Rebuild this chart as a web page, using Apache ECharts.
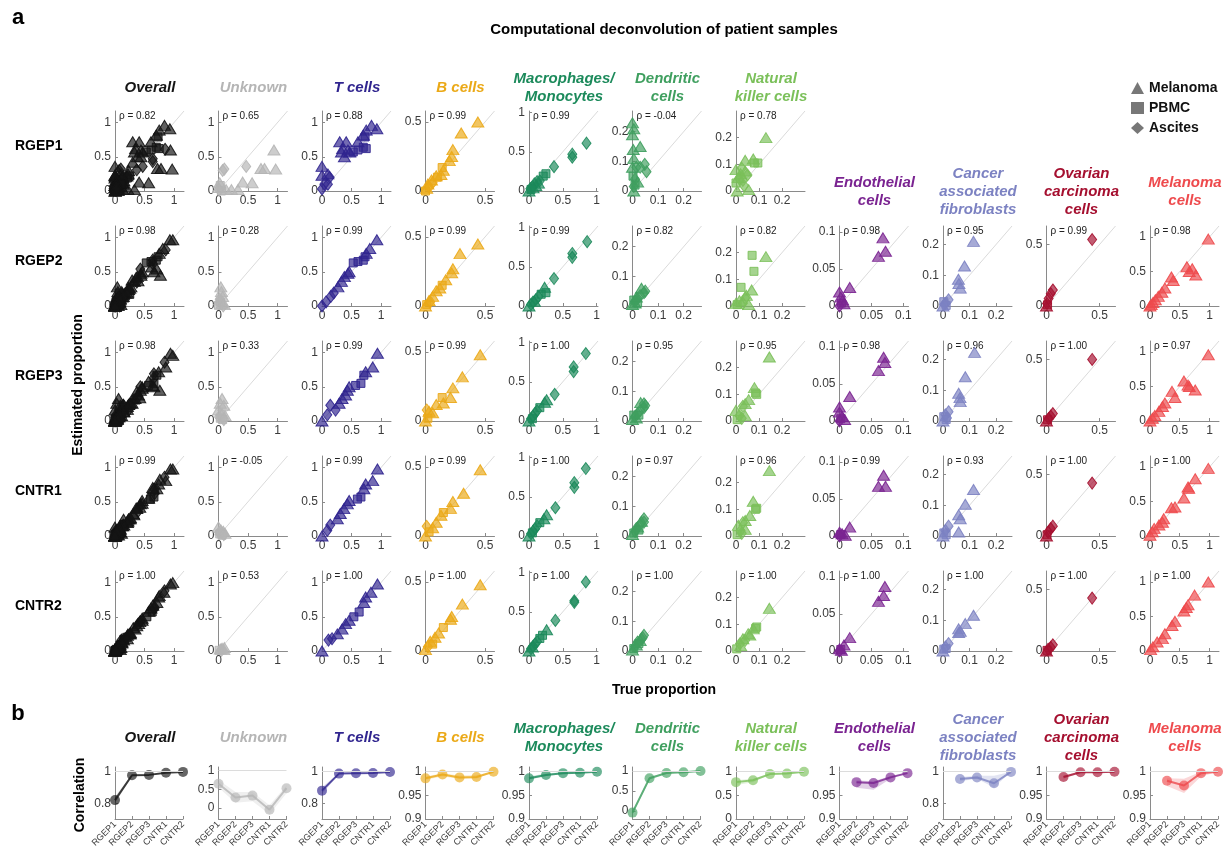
<!DOCTYPE html>
<html>
<head>
  <meta charset="UTF-8">
  <title>Computational deconvolution of patient samples</title>
  <script src="https://cdn.jsdelivr.net/npm/echarts@6.0.0/dist/echarts.min.js"></script>
  <style>html, body { margin: 0; padding: 0; background: #fff; }</style>
</head>
<body>
  <div id="chart" style="width: 1227px; height: 854px"></div>
  <script>
    // samples: 0 = Melanoma (triangle), 1 = PBMC (square), 2 = Ascites (diamond)
    var sampleNames = ['Melanoma', 'PBMC', 'Ascites'];
    var rowNames = ['RGEP1', 'RGEP2', 'RGEP3', 'CNTR1', 'CNTR2'];
    var cellTypes = ['Overall', 'Unknown', 'T cells', 'B cells', 'Macrophages/\nMonocytes', 'Dendritic\ncells',
      'Natural\nkiller cells', 'Endothelial\ncells', 'Cancer\nassociated\nfibroblasts', 'Ovarian\ncarcinoma\ncells', 'Melanoma\ncells'];
    var cellColors = ['#141414', '#b5b5b5', '#30258f', '#eba917', '#1c8a5b', '#3f9f5f', '#7bc05a', '#7a2391', '#7c82c2', '#a50f2f', '#ee4a4d'];

    // scatter axis limits and ticks per cell type
    var scatterMax = [1.17, 1.17, 1.17, 0.58, 1.02, 0.27, 0.3, 0.108, 0.26, 0.65, 1.16];
    var scatterTicks = [[0, 0.5, 1], [0, 0.5, 1], [0, 0.5, 1], [0, 0.5], [0, 0.5, 1], [0, 0.1, 0.2], [0, 0.1, 0.2],
      [0, 0.05, 0.1], [0, 0.1, 0.2], [0, 0.5], [0, 0.5, 1]];

    // correlation (rho) per cell type and dataset, with shaded range
    var rho = [
      [0.82, 0.978, 0.98, 0.993, 0.999],
      [0.65, 0.28, 0.33, -0.05, 0.53],
      [0.88, 0.988, 0.99, 0.992, 0.998],
      [0.986, 0.994, 0.988, 0.989, 1.0],
      [0.986, 0.993, 0.997, 0.998, 1.0],
      [-0.04, 0.82, 0.95, 0.97, 1.0],
      [0.78, 0.82, 0.95, 0.96, 1.0],
      [null, 0.978, 0.976, 0.988, 0.997],
      [null, 0.954, 0.963, 0.927, 0.999],
      [null, 0.989, 0.999, 0.999, 1.0],
      [null, 0.981, 0.971, 0.997, 1.0]
    ];
    var corrLow = [
      [0.80, 0.972, 0.975, 0.99, 0.998],
      [0.55, 0.14, 0.18, -0.17, 0.39],
      [0.86, 0.984, 0.987, 0.99, 0.997],
      [0.983, 0.99, 0.985, 0.985, 0.999],
      [0.983, 0.991, 0.996, 0.997, 0.999],
      [-0.1, 0.78, 0.94, 0.96, 0.998],
      [0.72, 0.78, 0.94, 0.95, 0.998],
      [null, 0.966, 0.962, 0.985, 0.995],
      [null, 0.94, 0.955, 0.9, 0.993],
      [null, 0.985, 0.998, 0.998, 0.999],
      [null, 0.97, 0.955, 0.99, 0.999]
    ];
    var corrHigh = [
      [0.84, 0.984, 0.985, 0.995, 1.0],
      [0.75, 0.43, 0.43, 0.07, 0.6],
      [0.9, 0.992, 0.993, 0.995, 1.0],
      [0.99, 0.997, 0.992, 0.993, 1.0],
      [0.99, 0.996, 0.999, 1.0, 1.0],
      [0.02, 0.85, 0.96, 0.98, 1.0],
      [0.82, 0.85, 0.96, 0.97, 1.0],
      [null, 0.982, 0.98, 0.991, 0.999],
      [null, 0.966, 0.975, 0.975, 1.0],
      [null, 0.992, 1.0, 1.0, 1.0],
      [null, 0.986, 0.985, 1.0, 1.0]
    ];
    var corrRange = [[0.7, 1.03], [-0.3, 1.1], [0.7, 1.03], [0.9, 1.01], [0.9, 1.01], [-0.2, 1.1], [0, 1.1],
      [0.9, 1.01], [0.7, 1.03], [0.9, 1.01], [0.9, 1.01]];
    var corrTicks = [[0.8, 1], [0, 0.5, 1], [0.8, 1], [0.9, 0.95, 1], [0.9, 0.95, 1], [0, 0.5, 1], [0, 0.5, 1],
      [0.9, 0.95, 1], [0.8, 1], [0.9, 0.95, 1], [0.9, 0.95, 1]];

    // points: [true proportion, estimated proportion, sample], one list per dataset
    var ptsUnknown = [
      [[0.07, 0.30, 2], [0.1, 0.32, 2], [0.47, 0.36, 2], [0.02, 0.12, 0], [0, 0.05, 0], [0.13, 0.02, 0], [0.22, 0.02, 0], [0.33, 0.02, 0], [0.41, 0.13, 0], [0.57, 0.12, 0], [0.72, 0.33, 0], [0.78, 0.33, 0], [0.94, 0.6, 0], [0.97, 0.32, 0], [0.03, 0.08, 1], [0.01, 0.02, 2], [0.05, 0, 1]],
      [[0.04, 0.28, 0], [0.05, 0.21, 0], [0.07, 0.14, 0], [0.02, 0.09, 0], [0.06, 0.04, 0], [0.1, 0.02, 0], [0, 0.01, 1], [0.03, 0.06, 1], [0.02, 0.1, 2], [0.08, 0, 2]],
      [[0.06, 0.33, 0], [0.03, 0.26, 0], [0.09, 0.23, 0], [0, 0.16, 0], [0.06, 0.11, 0], [0.11, 0.08, 0], [0.03, 0.04, 1], [0.07, 0.02, 1], [0.01, 0.06, 2], [0.09, 0.02, 2]],
      [[0, 0.13, 0], [0.04, 0.09, 0], [0.08, 0.07, 0], [0.11, 0.04, 0], [0.02, 0.03, 1], [0.06, 0.01, 1], [0.01, 0.05, 2], [0.09, 0.02, 2]],
      [[0.03, 0.03, 0], [0.06, 0.04, 0], [0.09, 0.02, 0], [0.01, 0.01, 1], [0.05, 0.01, 2], [0.1, 0.05, 0]]
    ];
    var ptsTcells = [
      [[0, 0.03, 2], [0.04, 0.1, 2], [0.13, 0.2, 2], [0.1, 0.1, 2], [0, 0.36, 0], [0, 0.23, 0], [0.1, 0.25, 0], [0.33, 0.57, 0], [0.3, 0.72, 0], [0.41, 0.72, 0], [0.35, 0.62, 0], [0.44, 0.6, 0], [0.38, 0.5, 0], [0.47, 0.57, 0], [0.61, 0.72, 0], [0.53, 0.57, 1], [0.61, 0.6, 1], [0.7, 0.64, 1], [0.75, 0.62, 1], [0.73, 0.79, 1], [0.75, 0.89, 0], [0.84, 0.96, 0], [0.93, 0.91, 0], [0.7, 0.82, 0]],
      [[0, 0, 2], [0.07, 0.06, 2], [0.15, 0.14, 2], [0.2, 0.19, 2], [0.27, 0.28, 0], [0.33, 0.36, 0], [0.38, 0.43, 0], [0.44, 0.48, 0], [0.46, 0.5, 0], [0.53, 0.63, 1], [0.61, 0.65, 1], [0.7, 0.67, 1], [0.73, 0.72, 1], [0.75, 0.77, 0], [0.81, 0.84, 0], [0.93, 0.97, 0]],
      [[0, 0, 0], [0.09, 0.09, 2], [0.14, 0.23, 2], [0.23, 0.16, 2], [0.29, 0.26, 0], [0.34, 0.33, 0], [0.4, 0.38, 0], [0.43, 0.45, 0], [0.46, 0.5, 0], [0.57, 0.52, 1], [0.66, 0.55, 1], [0.71, 0.67, 1], [0.74, 0.72, 0], [0.86, 0.79, 0], [0.94, 0.99, 0]],
      [[0, 0, 0], [0.09, 0.08, 2], [0.14, 0.16, 2], [0.26, 0.25, 0], [0.31, 0.33, 0], [0.37, 0.4, 0], [0.43, 0.47, 0], [0.46, 0.52, 0], [0.6, 0.54, 1], [0.66, 0.57, 1], [0.71, 0.69, 0], [0.74, 0.76, 0], [0.86, 0.81, 0], [0.94, 0.98, 0]],
      [[0, 0, 0], [0.11, 0.16, 2], [0.17, 0.18, 2], [0.26, 0.25, 0], [0.34, 0.32, 0], [0.4, 0.4, 0], [0.46, 0.45, 0], [0.54, 0.5, 1], [0.63, 0.57, 1], [0.71, 0.71, 0], [0.74, 0.79, 0], [0.83, 0.86, 0], [0.94, 0.98, 0]]
    ];
    var ptsBcells = [
      [[0.44, 0.5, 0], [0.3, 0.42, 0], [0.23, 0.3, 0], [0.22, 0.25, 0], [0.15, 0.15, 0], [0.13, 0.12, 0], [0.09, 0.11, 0], [0.05, 0.08, 0], [0.02, 0.05, 0], [0.01, 0.02, 0], [0.14, 0.17, 1], [0.1, 0.1, 1], [0, 0, 1], [0.03, 0.03, 2], [0.06, 0.06, 2], [0.2, 0.22, 0]],
      [[0.44, 0.45, 0], [0.29, 0.38, 0], [0.23, 0.27, 0], [0.22, 0.24, 0], [0.17, 0.19, 0], [0.14, 0.15, 1], [0.12, 0.13, 0], [0.09, 0.11, 0], [0.06, 0.07, 0], [0.03, 0.04, 0], [0.01, 0.01, 1], [0.04, 0.03, 2], [0, 0, 0]],
      [[0.46, 0.48, 0], [0.31, 0.32, 0], [0.23, 0.24, 0], [0.21, 0.17, 0], [0.14, 0.17, 1], [0.15, 0.13, 0], [0.09, 0.12, 0], [0.06, 0.06, 0], [0.03, 0.07, 0], [0.01, 0.08, 2], [0, 0, 0], [0.02, 0.02, 1]],
      [[0.46, 0.48, 0], [0.32, 0.31, 0], [0.23, 0.25, 0], [0.21, 0.2, 0], [0.15, 0.17, 1], [0.13, 0.15, 0], [0.09, 0.1, 0], [0.06, 0.06, 0], [0.01, 0.07, 2], [0, 0, 0], [0.03, 0.03, 1]],
      [[0.46, 0.48, 0], [0.31, 0.34, 0], [0.22, 0.25, 0], [0.21, 0.23, 0], [0.15, 0.17, 1], [0.11, 0.13, 0], [0.08, 0.1, 0], [0.04, 0.07, 0], [0, 0.01, 0], [0.02, 0.03, 2], [0.06, 0.05, 1]]
    ];
    var ptsMacro = [
      [[0.85, 0.61, 2], [0.64, 0.43, 2], [0.64, 0.47, 2], [0.37, 0.31, 2], [0.25, 0.22, 1], [0.21, 0.19, 1], [0.16, 0.13, 2], [0.12, 0.12, 2], [0.08, 0.09, 2], [0.05, 0.05, 2], [0.02, 0.03, 2], [0.14, 0.1, 0], [0.1, 0.07, 0], [0.06, 0.04, 0], [0.03, 0.02, 1], [0, 0, 0]],
      [[0.86, 0.82, 2], [0.64, 0.67, 2], [0.64, 0.62, 2], [0.37, 0.35, 2], [0.23, 0.24, 0], [0.25, 0.17, 1], [0.18, 0.15, 1], [0.14, 0.12, 2], [0.1, 0.08, 2], [0.06, 0.05, 2], [0.03, 0.02, 2], [0.08, 0.06, 0], [0, 0, 0]],
      [[0.84, 0.86, 2], [0.66, 0.69, 2], [0.66, 0.63, 2], [0.38, 0.34, 2], [0.26, 0.27, 0], [0.23, 0.24, 0], [0.16, 0.17, 1], [0.12, 0.13, 2], [0.09, 0.1, 2], [0.06, 0.06, 2], [0.03, 0.03, 2], [0.05, 0.03, 1], [0, 0, 0]],
      [[0.84, 0.86, 2], [0.67, 0.68, 2], [0.67, 0.62, 2], [0.39, 0.36, 2], [0.26, 0.27, 0], [0.22, 0.22, 0], [0.16, 0.17, 1], [0.12, 0.13, 2], [0.09, 0.09, 2], [0.06, 0.06, 2], [0.03, 0.03, 2], [0.05, 0.04, 1], [0, 0, 0]],
      [[0.84, 0.88, 2], [0.67, 0.64, 2], [0.67, 0.62, 2], [0.39, 0.39, 2], [0.26, 0.27, 0], [0.2, 0.2, 1], [0.16, 0.16, 1], [0.12, 0.12, 2], [0.09, 0.09, 2], [0.06, 0.06, 2], [0.03, 0.03, 2], [0.05, 0.05, 0], [0, 0, 0]]
    ];
    var ptsDendritic = [
      [[0, 0.23, 0], [0.005, 0.21, 0], [0, 0.19, 0], [0.003, 0.14, 0], [0.005, 0.11, 0], [0.03, 0.15, 0], [0, 0.08, 0], [0.015, 0.08, 2], [0.03, 0.08, 2], [0.048, 0.09, 2], [0.055, 0.065, 2], [0.01, 0.04, 2], [0.005, 0.015, 2], [0.01, 0.02, 1], [0.002, 0.05, 1], [0.02, 0.03, 0], [0.005, 0, 0]],
      [[0.035, 0.06, 0], [0.05, 0.05, 2], [0.045, 0.045, 2], [0.03, 0.035, 2], [0.02, 0.025, 2], [0.01, 0.015, 2], [0.005, 0.02, 1], [0.01, 0.01, 0], [0, 0.005, 0], [0.02, 0.01, 1], [0.015, 0.03, 0]],
      [[0.032, 0.062, 0], [0.045, 0.058, 2], [0.05, 0.052, 2], [0.045, 0.045, 2], [0.03, 0.035, 2], [0.02, 0.025, 2], [0.01, 0.015, 2], [0.005, 0.02, 1], [0, 0.005, 0], [0.015, 0.01, 0], [0.025, 0.02, 1]],
      [[0.045, 0.058, 2], [0.045, 0.047, 2], [0.03, 0.04, 2], [0.015, 0.025, 2], [0.035, 0.05, 0], [0.02, 0.03, 0], [0.005, 0.01, 1], [0, 0.005, 0], [0.01, 0.015, 2], [0.025, 0.02, 1]],
      [[0.045, 0.053, 2], [0.035, 0.04, 2], [0.02, 0.03, 2], [0.01, 0.015, 2], [0.03, 0.035, 0], [0.015, 0.02, 0], [0.005, 0.008, 1], [0, 0.003, 0], [0.025, 0.025, 1], [0.04, 0.045, 2]]
    ];
    var ptsNK = [
      [[0.13, 0.2, 0], [0.04, 0.115, 0], [0.075, 0.12, 0], [0.08, 0.105, 1], [0.095, 0.105, 1], [0, 0.08, 0], [0.02, 0.065, 0], [0.04, 0.075, 0], [0.025, 0.085, 2], [0.05, 0.06, 2], [0.015, 0.045, 2], [0.035, 0.02, 2], [0, 0.03, 1], [0.055, 0.005, 0], [0.005, 0, 0], [0.01, 0.05, 0], [0.03, 0.04, 2]],
      [[0.07, 0.19, 1], [0.078, 0.13, 1], [0.022, 0.07, 1], [0.13, 0.185, 0], [0.068, 0.06, 0], [0.045, 0.04, 0], [0.04, 0.03, 2], [0.015, 0.02, 0], [0.055, 0.005, 0], [0.005, 0.005, 1], [0.03, 0.01, 2], [0, 0.01, 0]],
      [[0.145, 0.24, 0], [0.08, 0.125, 0], [0.09, 0.1, 1], [0.085, 0.105, 1], [0.055, 0.08, 0], [0.04, 0.065, 0], [0.03, 0.055, 2], [0, 0.04, 0], [0.015, 0.02, 2], [0.04, 0.02, 0], [0.005, 0.005, 1], [0.025, 0.01, 2]],
      [[0.145, 0.245, 0], [0.075, 0.13, 0], [0.09, 0.104, 1], [0.085, 0.1, 1], [0.06, 0.077, 0], [0.04, 0.058, 0], [0.03, 0.05, 2], [0.01, 0.04, 0], [0.02, 0.02, 2], [0.04, 0.025, 0], [0.005, 0.005, 1], [0.025, 0.01, 2]],
      [[0.145, 0.16, 0], [0.09, 0.09, 1], [0.085, 0.085, 1], [0.075, 0.083, 0], [0.053, 0.065, 0], [0.03, 0.046, 0], [0.017, 0.027, 2], [0.003, 0.008, 1], [0.04, 0.04, 2], [0.06, 0.06, 0], [0.02, 0.02, 0]]
    ];
    var ptsEndothelial = [null,
      [[0.068, 0.092, 0], [0.072, 0.074, 0], [0.061, 0.067, 0], [0.016, 0.025, 0], [0, 0.019, 0], [0.002, 0.012, 0], [0.005, 0.008, 0], [0.007, 0.003, 0], [0, 0, 2], [0.003, 0.004, 1]],
      [[0.069, 0.086, 0], [0.071, 0.079, 0], [0.061, 0.068, 0], [0.016, 0.033, 0], [0, 0.019, 0], [0, 0.012, 0], [0.004, 0.006, 0], [0.008, 0.002, 0], [0, 0, 2], [0.002, 0.003, 1]],
      [[0.069, 0.082, 0], [0.061, 0.067, 0], [0.072, 0.067, 0], [0.016, 0.012, 0], [0, 0.005, 0], [0.004, 0.003, 0], [0.009, 0.001, 0], [0, 0, 2], [0.002, 0.002, 1]],
      [[0.071, 0.087, 0], [0.069, 0.075, 0], [0.061, 0.067, 0], [0.016, 0.018, 0], [0.007, 0.008, 0], [0, 0.003, 0], [0.003, 0.001, 0], [0, 0, 2], [0.002, 0.002, 1]]
    ];
    var ptsCAF = [null,
      [[0.115, 0.21, 0], [0.081, 0.13, 0], [0.058, 0.087, 0], [0.06, 0.073, 0], [0.065, 0.058, 0], [0.021, 0.02, 2], [0.009, 0.009, 2], [0.003, 0.014, 1], [0.012, 0.002, 1], [0, 0, 0], [0.005, 0.005, 2]],
      [[0.119, 0.223, 0], [0.084, 0.144, 0], [0.059, 0.09, 0], [0.064, 0.076, 0], [0.065, 0.063, 0], [0.021, 0.03, 2], [0.009, 0.02, 2], [0.003, 0.014, 1], [0.012, 0.005, 1], [0, 0, 0], [0.015, 0.01, 2]],
      [[0.115, 0.151, 0], [0.084, 0.103, 0], [0.059, 0.069, 0], [0.065, 0.056, 0], [0.059, 0.013, 0], [0.021, 0.032, 2], [0.009, 0.018, 2], [0.003, 0.01, 1], [0.012, 0.004, 1], [0, 0, 0]],
      [[0.115, 0.116, 0], [0.084, 0.089, 0], [0.059, 0.072, 0], [0.065, 0.064, 0], [0.059, 0.06, 0], [0.021, 0.024, 2], [0.009, 0.013, 2], [0.003, 0.006, 1], [0.012, 0.008, 1], [0, 0, 0]]
    ];
    var ptsOvarian = [null,
      [[0.43, 0.54, 2], [0.06, 0.13, 2], [0.04, 0.1, 2], [0.02, 0.06, 2], [0.005, 0.02, 2], [0, 0, 0], [0.01, 0.01, 1]],
      [[0.43, 0.5, 2], [0.06, 0.06, 2], [0.04, 0.04, 2], [0.02, 0.02, 2], [0, 0, 0], [0.01, 0.01, 1]],
      [[0.43, 0.43, 2], [0.06, 0.08, 2], [0.04, 0.06, 2], [0.015, 0.03, 2], [0, 0, 0], [0.005, 0.01, 1]],
      [[0.43, 0.43, 2], [0.06, 0.05, 2], [0.04, 0.03, 2], [0.015, 0.014, 2], [0, 0, 0], [0.005, 0.005, 1]]
    ];
    var ptsMelanoma = [null,
      [[0.98, 0.97, 0], [0.62, 0.57, 0], [0.71, 0.54, 0], [0.66, 0.5, 0], [0.77, 0.45, 0], [0.36, 0.42, 0], [0.39, 0.37, 0], [0.25, 0.26, 0], [0.2, 0.2, 0], [0.14, 0.14, 0], [0.09, 0.09, 0], [0.05, 0.05, 0], [0.02, 0.02, 0], [0, 0, 0]],
      [[0.98, 0.96, 0], [0.57, 0.58, 0], [0.64, 0.52, 0], [0.66, 0.5, 0], [0.76, 0.45, 0], [0.37, 0.43, 0], [0.42, 0.34, 0], [0.25, 0.26, 0], [0.21, 0.21, 0], [0.15, 0.14, 0], [0.08, 0.08, 0], [0.04, 0.04, 0], [0, 0, 0]],
      [[0.98, 0.98, 0], [0.76, 0.83, 0], [0.64, 0.71, 0], [0.65, 0.69, 0], [0.57, 0.55, 0], [0.42, 0.42, 0], [0.36, 0.41, 0], [0.23, 0.25, 0], [0.21, 0.2, 0], [0.15, 0.16, 0], [0.07, 0.11, 0], [0.04, 0.06, 0], [0, 0.01, 0]],
      [[0.98, 1.0, 0], [0.75, 0.81, 0], [0.64, 0.67, 0], [0.61, 0.63, 0], [0.57, 0.58, 0], [0.42, 0.43, 0], [0.37, 0.37, 0], [0.25, 0.25, 0], [0.21, 0.18, 0], [0.12, 0.13, 0], [0.05, 0.06, 0], [0.01, 0.02, 0]]
    ];

    var cellPoints = [null, ptsUnknown, ptsTcells, ptsBcells, ptsMacro, ptsDendritic, ptsNK,
      ptsEndothelial, ptsCAF, ptsOvarian, ptsMelanoma];
    // "Overall" pools every cell type of the same dataset
    cellPoints[0] = rowNames.map(function (r, ri) {
      var all = [];
      for (var k = 1; k < cellPoints.length; k++) {
        if (cellPoints[k][ri]) all = all.concat(cellPoints[k][ri]);
      }
      return all;
    });

    var FONT = '"Liberation Sans", Arial, Helvetica, sans-serif';
    var symbols = ['triangle', 'rect', 'diamond'];
    var symbolSizes = [[12, 10], [8, 8], [9, 12]];

    function rgba(hex, a) {
      var n = parseInt(hex.slice(1), 16);
      return 'rgba(' + (n >> 16) + ',' + ((n >> 8) & 255) + ',' + (n & 255) + ',' + a + ')';
    }
    function colLeft(c) { return 115 + 103.5 * c; }

    function valueAxis(gi, min, max, ticks) {
      return {
        type: 'value', gridIndex: gi, min: min, max: max,
        axisLine: { show: true, onZero: false, lineStyle: { color: '#8a8a8a', width: 1 } },
        axisTick: { show: true, inside: true, length: 3, lineStyle: { color: '#8a8a8a' }, customValues: ticks.slice() },
        axisLabel: { show: true, color: '#3a3a3a', fontSize: 12, fontFamily: FONT, margin: 4, customValues: ticks.slice() },
        splitLine: { show: false }
      };
    }

    var grids = [], xAxes = [], yAxes = [], series = [], graphics = [];

    function addText(x, y, text, style, extra) {
      var el = { type: 'text', x: x, y: y, silent: true,
        style: Object.assign({ text: text, x: 0, y: 0, fontFamily: FONT, fill: '#000',
          textAlign: 'center', textVerticalAlign: 'middle', align: 'center', verticalAlign: 'middle' }, style) };
      graphics.push(Object.assign(el, extra || {}));
    }

    // ---- panel a: scatter grid ----
    for (var c = 0; c < cellTypes.length; c++) {
      for (var r = 0; r < rowNames.length; r++) {
        var pts = cellPoints[c][r];
        if (!pts) continue;
        var gi = grids.length;
        var plotLeft = colLeft(c), plotTop = 111 + 115 * r;
        var M = scatterMax[c];
        grids.push({ left: plotLeft, top: plotTop, width: 69, height: 80 });
        xAxes.push(valueAxis(gi, 0, M, scatterTicks[c]));
        yAxes.push(valueAxis(gi, 0, M, scatterTicks[c]));
        series.push({
          type: 'line', xAxisIndex: gi, yAxisIndex: gi, data: [[0, 0], [M, M]],
          symbol: 'none', silent: true, z: 1, lineStyle: { color: '#dadada', width: 1 }
        });
        series.push({
          type: 'scatter', xAxisIndex: gi, yAxisIndex: gi, data: pts, clip: false, silent: true,
          symbol: function (v) { return symbols[v[2]]; },
          symbolSize: function (v) { return symbolSizes[v[2]].slice(); },
          itemStyle: { color: rgba(cellColors[c], 0.68), borderColor: rgba(cellColors[c], 0.9), borderWidth: 1, opacity: 1 }
        });
        addText(plotLeft + 4, plotTop + 5, '\u03c1 = ' + rho[c][r].toFixed(2),
          { fontSize: 10, fill: '#222', textAlign: 'left', align: 'left' });
      }
      // column heading
      addText(colLeft(c) + 35, c < 7 ? 88 : 192, cellTypes[c],
        { fontSize: 15, fontWeight: 'bold', fontStyle: 'italic', fill: cellColors[c], lineHeight: 18 });
    }
    rowNames.forEach(function (label, ri) {
      addText(15, 146 + 115 * ri, label, { fontSize: 14, fontWeight: 'bold', textAlign: 'left', align: 'left' });
    });

    // ---- panel b: correlation lines ----
    for (var c2 = 0; c2 < cellTypes.length; c2++) {
      var g2 = grids.length;
      var col = cellColors[c2];
      grids.push({ left: colLeft(c2), top: 767, width: 68, height: 52 });
      xAxes.push({
        type: 'category', gridIndex: g2, data: rowNames.slice(), boundaryGap: false,
        axisLine: { show: true, onZero: false, lineStyle: { color: '#8a8a8a', width: 1 } },
        axisTick: { show: true, inside: true, length: 3, lineStyle: { color: '#8a8a8a' } },
        axisLabel: { rotate: 45, interval: 0, fontSize: 9, color: '#3a3a3a', fontFamily: FONT, margin: 4 }
      });
      yAxes.push(valueAxis(g2, corrRange[c2][0], corrRange[c2][1], corrTicks[c2]));
      var diff = corrHigh[c2].map(function (h, i) {
        return h == null ? null : +(h - corrLow[c2][i]).toFixed(4);
      });
      series.push({
        type: 'line', xAxisIndex: g2, yAxisIndex: g2, data: corrLow[c2], stack: 'band' + c2, stackStrategy: 'all',
        symbol: 'none', silent: true, lineStyle: { opacity: 0 }
      });
      series.push({
        type: 'line', xAxisIndex: g2, yAxisIndex: g2, data: diff, stack: 'band' + c2, stackStrategy: 'all',
        symbol: 'none', silent: true, lineStyle: { opacity: 0 }, areaStyle: { color: rgba(col, 0.22), opacity: 1 }
      });
      series.push({
        type: 'line', xAxisIndex: g2, yAxisIndex: g2, data: rho[c2], symbol: 'circle', symbolSize: 10,
        silent: true, z: 3,
        lineStyle: { color: rgba(col, 0.8), width: 2 },
        itemStyle: { color: rgba(col, 0.65), borderWidth: 0, opacity: 1 },
        markLine: { silent: true, symbol: 'none', label: { show: false },
          lineStyle: { color: '#dcdcdc', type: 'solid', width: 1 }, data: [{ yAxis: 1 }] }
      });
      addText(colLeft(c2) + 35, 738, cellTypes[c2],
        { fontSize: 15, fontWeight: 'bold', fontStyle: 'italic', fill: col, lineHeight: 18 });
    }

    // legend entries
    sampleNames.forEach(function (label, i) {
      series.push({ type: 'scatter', name: label, xAxisIndex: 0, yAxisIndex: 0, data: [],
        symbol: symbols[i], itemStyle: { color: '#555' } });
    });

    // titles and axis names
    addText(664, 30, 'Computational deconvolution of patient samples', { fontSize: 15, fontWeight: 'bold' });
    addText(18, 18, 'a', { fontSize: 22, fontWeight: 'bold' });
    addText(18, 714, 'b', { fontSize: 22, fontWeight: 'bold' });
    addText(664, 690, 'True proportion', { fontSize: 14, fontWeight: 'bold' });
    addText(78, 385, 'Estimated proportion', { fontSize: 14, fontWeight: 'bold' }, { rotation: Math.PI / 2 });
    addText(80, 795, 'Correlation', { fontSize: 14, fontWeight: 'bold' }, { rotation: Math.PI / 2 });

    var chart = echarts.init(document.getElementById('chart'));
    chart.setOption({
      animation: false,
      backgroundColor: '#fff',
      grid: grids,
      xAxis: xAxes,
      yAxis: yAxes,
      legend: {
        data: [{ name: 'Melanoma', icon: 'triangle' }, { name: 'PBMC', icon: 'rect' }, { name: 'Ascites', icon: 'diamond' }],
        orient: 'vertical', left: 1126, top: 76, itemWidth: 13, itemHeight: 12, itemGap: 6,
        selectedMode: false,
        textStyle: { fontSize: 14, fontWeight: 'bold', color: '#111', fontFamily: FONT }
      },
      graphic: graphics,
      series: series
    });
  </script>
</body>
</html>
